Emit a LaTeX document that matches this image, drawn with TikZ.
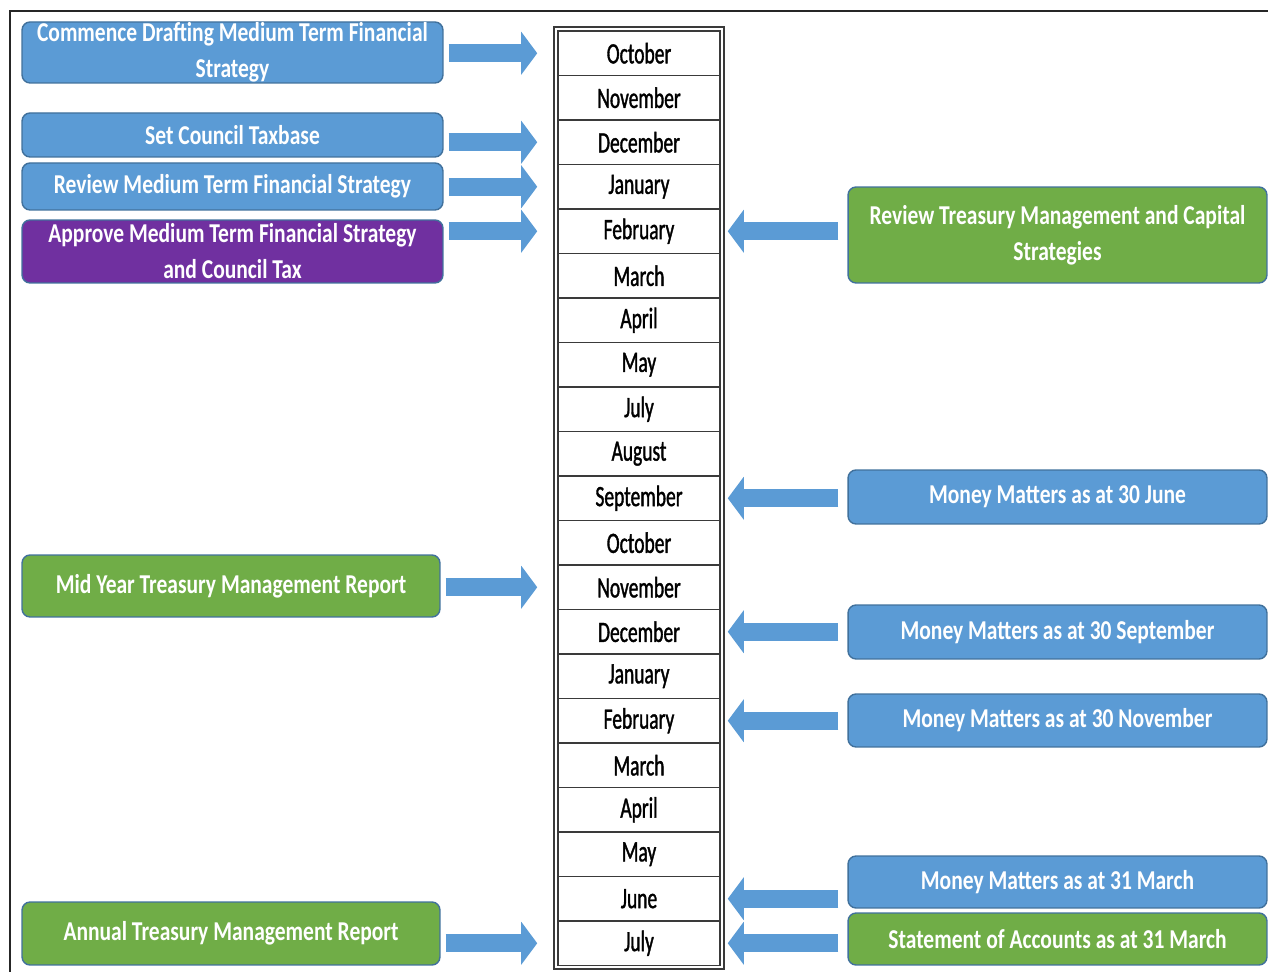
\documentclass[tikz,border=0pt]{standalone}
\usepackage{fontspec}
\usepackage{tikz}
\usetikzlibrary{arrows.meta, positioning}
\newfontfamily\monthfont[FakeStretch=0.66, FakeBold=1.2]{Carlito}
\newfontfamily\boxfont[FakeStretch=0.79]{Carlito}
\definecolor{mtblue}{HTML}{5B9BD5}
\definecolor{mtgreen}{HTML}{70AD47}
\definecolor{mtpurple}{HTML}{7030A0}
\definecolor{mtedge}{HTML}{41719C}
\definecolor{mtcell}{HTML}{3A3A3A}

\begin{document}
\begin{tikzpicture}[x=0.02cm, y=-0.02cm,
  task/.style={draw=mtedge, line width=0.8pt, rounded corners=0.16cm, text=white, align=center,
    font=\boxfont\bfseries\fontsize{15.5}{20.5}\selectfont, inner sep=0pt},
  lefttask/.style={task, minimum width=8.42cm},
  righttask/.style={task, minimum width=8.38cm},
  month/.style={draw=mtcell, line width=0.9pt, minimum width=3.24cm, minimum height=0.89cm,
    inner sep=0pt, font=\monthfont\fontsize{16.8}{18}\selectfont},
  blockarrow/.style={draw=mtblue, line width=0.36cm,
    -{Triangle[width=0.86cm, length=0.32cm, line width=0pt]}},
  toright/.style={blockarrow, shorten <=0.1cm, shorten >=0.4cm},
  toleft/.style={blockarrow, shorten <=0.18cm, shorten >=0.14cm}]

  \useasboundingbox (0,0) rectangle (1268,972);
  % outer frame
  \draw[line width=1.2pt, black!85] (10,972) -- (10,11) -- (1268,11);

  % month column
  \foreach \name [count=\i] in {October,November,December,January,February,March,April,May,July,
      August,September,October,November,December,January,February,March,April,May,June,July} {
    \node[month] (m\i) at (639,{31+44.5*(\i-0.5)}) {\name};
  }
  \draw[line width=1pt, mtcell] ([shift={(-3,-3)}]m1.north west) rectangle ([shift={(3,3)}]m21.south east);

  % left hand tasks
  \node[lefttask, fill=mtblue, minimum height=1.22cm] (commence) at (232.5,52.5)
    {Commence Drafting Medium Term Financial\\Strategy};
  \node[lefttask, fill=mtblue, minimum height=0.88cm] (taxbase) at (232.5,135) {Set Council Taxbase};
  \node[lefttask, fill=mtblue, minimum height=0.94cm] (reviewmtfs) at (232.5,186.5)
    {Review Medium Term Financial Strategy};
  \node[lefttask, fill=mtpurple, minimum height=1.26cm] (approve) at (232.5,251.5)
    {Approve Medium Term Financial Strategy\\and Council Tax};
  \node[task, fill=mtgreen, minimum width=8.36cm, minimum height=1.24cm] (midyear) at (231,586)
    {Mid Year Treasury Management Report};
  \node[task, fill=mtgreen, minimum width=8.36cm, minimum height=1.26cm] (annual) at (231,933.5)
    {Annual Treasury Management Report};

  % right hand tasks
  \node[righttask, fill=mtgreen, minimum height=1.92cm] (treasury) at (1057.5,235)
    {Review Treasury Management and Capital\\Strategies};
  \node[righttask, fill=mtblue, minimum height=1.08cm] (mmjun) at (1057.5,497) {Money Matters as at 30 June};
  \node[righttask, fill=mtblue, minimum height=1.08cm] (mmsep) at (1057.5,632) {Money Matters as at 30 September};
  \node[righttask, fill=mtblue, minimum height=1.06cm] (mmnov) at (1057.5,720.5) {Money Matters as at 30 November};
  \node[righttask, fill=mtblue, minimum height=1.04cm] (mmmar) at (1057.5,882) {Money Matters as at 31 March};
  \node[righttask, fill=mtgreen, minimum height=1.04cm] (accounts) at (1057.5,939)
    {Statement of Accounts as at 31 March};

  % arrows into the months
  \draw[toright] (commence.east |- m1) -- (m1.west);
  \draw[toright] (taxbase.east |- m3) -- (m3.west);
  \draw[toright] (reviewmtfs.east |- m4) -- (m4.west);
  \draw[toright] (approve.east |- m5) -- (m5.west);
  \draw[toright] (midyear.east |- m13) -- (m13.west);
  \draw[toright] (annual.east |- m21) -- (m21.west);

  \draw[toleft] (treasury.west |- m5) -- (m5.east);
  \draw[toleft] (mmjun.west |- m11) -- (m11.east);
  \draw[toleft] (mmsep.west |- m14) -- (m14.east);
  \draw[toleft] (mmnov.west |- m16) -- (m16.east);
  \draw[toleft] (mmmar.west |- m20) -- (m20.east);
  \draw[toleft] (accounts.west |- m21) -- (m21.east);
\end{tikzpicture}
\end{document}
